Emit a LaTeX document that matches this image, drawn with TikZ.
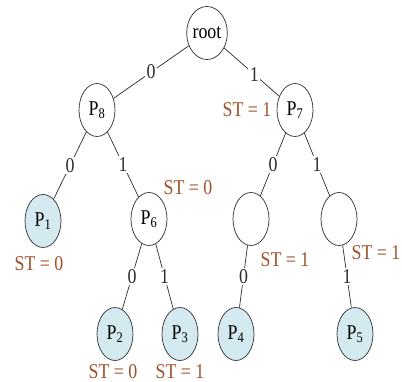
\documentclass[tikz,border=0pt]{standalone}
\usepackage{fontspec}
\setmainfont{Liberation Serif}[FakeStretch=0.85]
\usetikzlibrary{shapes.geometric}
\definecolor{leaf}{RGB}{213,234,240}
\definecolor{stc}{RGB}{160,80,40}
\definecolor{ln}{RGB}{45,45,45}
\begin{document}
\begin{tikzpicture}[x=1pt,y=-1pt,
  every node/.style={font=\fontsize{21}{21}\selectfont},
  nd/.style={ellipse, draw=ln, line width=0.7pt, minimum width=36pt, minimum height=53pt, inner sep=0pt},
  leafnd/.style={nd, fill=leaf},
  edge/.style={draw=ln, line width=0.7pt},
  lbl/.style={fill=white, inner sep=1.5pt, text=ln},
  stl/.style={text=stc, inner sep=0pt}]
\useasboundingbox (0,0) rectangle (402,382);
% nodes
\node[nd] (root) at (207,33) {root};
\node[nd] (p8) at (97,110) {P\textsubscript{8}};
\node[nd] (p7) at (295,110) {P\textsubscript{7}};
\node[leafnd] (p1) at (43,221) {P\textsubscript{1}};
\node[nd] (p6) at (149,219) {P\textsubscript{6}};
\node[nd] (e1) at (251,219) {};
\node[nd] (e2) at (339,219) {};
\node[leafnd] (p2) at (115,334) {P\textsubscript{2}};
\node[leafnd] (p3) at (180,334) {P\textsubscript{3}};
\node[leafnd] (p4) at (236,334) {P\textsubscript{4}};
\node[leafnd] (p5) at (355,334) {P\textsubscript{5}};
% edges
\draw[edge] (root) -- node[lbl] {0} (p8);
\draw[edge] (root) -- node[lbl, pos=0.55] {1} (p7);
\draw[edge] (p8) -- node[lbl] {0} (p1);
\draw[edge] (p8) -- node[lbl] {1} (p6);
\draw[edge] (p7) -- node[lbl] {0} (e1);
\draw[edge] (p7) -- node[lbl] {1} (e2);
\draw[edge] (p6) -- node[lbl] {0} (p2);
\draw[edge] (p6) -- node[lbl] {1} (p3);
\draw[edge] (e1) -- node[lbl] {0} (p4);
\draw[edge] (e2) -- node[lbl] {1} (p5);
% ST labels
\node[stl] (st7) at (247,110) {ST = 1};
\node[stl] (st6) at (188,188) {ST = 0};
\node[stl] (st1) at (39,264) {ST = 0};
\node[stl] (ste1) at (285,260) {ST = 1};
\node[stl] (ste2) at (376,253) {ST = 1};
\node[stl] (st2) at (113,372) {ST = 0};
\node[stl] (st3) at (180,372) {ST = 1};
\end{tikzpicture}
\end{document}
